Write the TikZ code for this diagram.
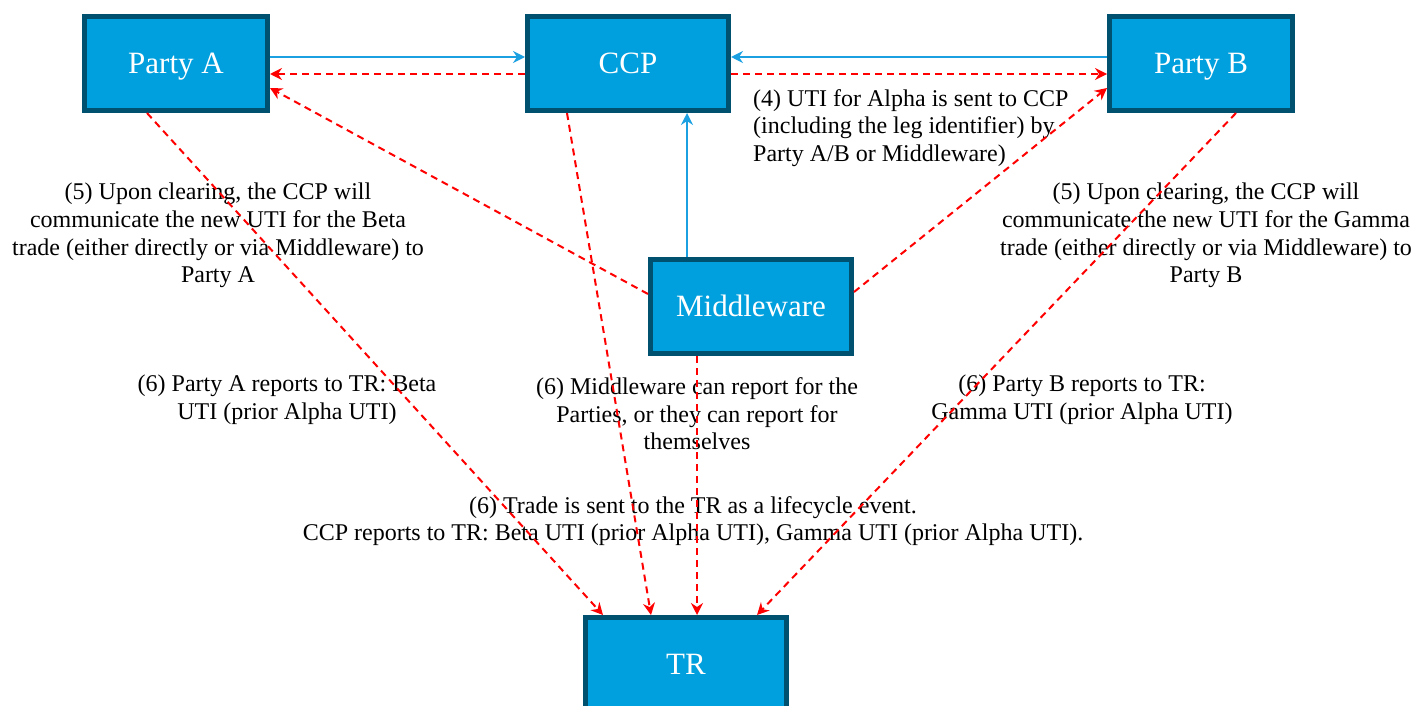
\documentclass[tikz,border=0pt]{standalone}
\usepackage{fontspec}
\setmainfont{Liberation Serif}
\usetikzlibrary{arrows.meta}
\definecolor{boxfill}{RGB}{0,160,222}
\definecolor{boxline}{RGB}{0,80,112}
\definecolor{flowblue}{RGB}{27,161,226}
\begin{document}
\begin{tikzpicture}[x=1pt,y=-1pt,
  box/.style={draw=boxline,fill=boxfill,line width=5pt,text=white,
    font=\fontsize{31}{36}\selectfont,inner sep=0pt,
    text height=20.6pt,text depth=0pt},
  lbl/.style={align=center,inner sep=0pt,font=\fontsize{24}{27.6}\selectfont},
  bluearrow/.style={draw=flowblue,line width=2pt,
    -{Stealth[length=12pt,width=12pt,inset=4pt]}},
  redarrow/.style={draw=red,line width=2pt,dash pattern=on 7pt off 5pt,
    -{Stealth[length=12pt,width=12pt,inset=4pt]}}]
\clip (0,0) rectangle (1415,706);
\node[box,minimum width=183pt,minimum height=94pt] (A) at (176,63.5) {Party A};
\node[box,minimum width=201pt,minimum height=94pt] (C) at (628,63.5) {CCP};
\node[box,minimum width=183pt,minimum height=94pt] (B) at (1201,63.5) {Party B};
\node[box,minimum width=201pt,minimum height=94pt] (M) at (751,306.5) {Middleware};
\node[box,minimum width=201pt,minimum height=94pt] (TR) at (686,664.5) {TR};

% labels
\node[lbl,anchor=west,align=left] (L4) at (753,128) {(4) UTI for Alpha is sent to CCP\\(including the leg identifier) by\\Party A/B or Middleware)};
\node[lbl] (L5A) at (218,235.5) {(5) Upon clearing, the CCP will\\communicate the new UTI for the Beta\\trade (either directly or via Middleware) to\\Party A};
\node[lbl] (L5B) at (1206,235.5) {(5) Upon clearing, the CCP will\\communicate the new UTI for the Gamma\\trade (either directly or via Middleware) to\\Party B};
\node[lbl] (L6A) at (287,400) {(6) Party A reports to TR: Beta\\UTI (prior Alpha UTI)};
\node[lbl] (L6M) at (697,414) {(6) Middleware can report for the\\Parties, or they can report for\\themselves};
\node[lbl] (L6B) at (1082,400) {(6) Party B reports to TR:\\Gamma UTI (prior Alpha UTI)};
\node[lbl] (L6T) at (693,521) {(6) Trade is sent to the TR as a lifecycle event.\\CCP reports to TR: Beta UTI (prior Alpha UTI), Gamma UTI (prior Alpha UTI).};

% blue flows
\draw[bluearrow] ([yshift=6.5pt]A.east) -- ([yshift=6.5pt]C.west);
\draw[bluearrow] ([yshift=6.5pt]B.west) -- ([yshift=6.5pt]C.east);
\draw[bluearrow] ([xshift=-64pt]M.north) -- ([xshift=59pt]C.south);

% red flows
\draw[redarrow] ([yshift=-10.5pt]C.west) -- ([yshift=-10.5pt]A.east);
\draw[redarrow] ([yshift=-10.5pt]C.east) -- ([yshift=-10.5pt]B.west);
\draw[redarrow] ([yshift=12.5pt]M.west) -- ([yshift=-24.5pt]A.east);
\draw[redarrow] ([yshift=14.5pt]M.east) -- ([yshift=-24.5pt]B.west);
\draw[redarrow] ([xshift=-29pt]A.south) -- ([xshift=-83pt]TR.north);
\draw[redarrow] ([xshift=-61pt]C.south) -- ([xshift=-35pt]TR.north);
\draw[redarrow] ([xshift=-54pt]M.south) -- ([xshift=11pt]TR.north);
\draw[redarrow] ([xshift=35pt]B.south) -- ([xshift=71pt]TR.north);
\end{tikzpicture}
\end{document}
